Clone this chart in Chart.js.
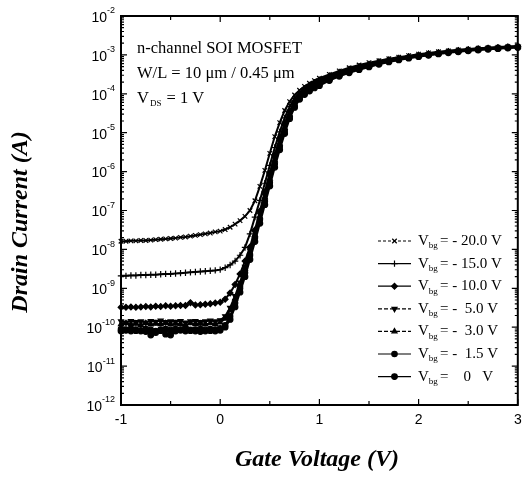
<!DOCTYPE html>
<html lang="en">
<head>
<meta charset="UTF-8">
<title>Drain Current vs Gate Voltage</title>
<script src="https://cdn.jsdelivr.net/npm/chart.js"></script>
<style>
    body { margin: 0; background: #fff; }
    #wrap { width: 523px; height: 485px; }
</style>
</head>
<body>
<div id="wrap"><canvas id="idvg" width="523" height="485"></canvas></div>
<script>
// gate voltage (V)
const vg = [-1, -0.95, -0.9, -0.85, -0.8, -0.75, -0.7, -0.65, -0.6, -0.55, -0.5, -0.45, -0.4, -0.35, -0.3, -0.25, -0.2, -0.15, -0.1, -0.05, 0,
    0.05, 0.1, 0.15, 0.2, 0.25, 0.3, 0.35, 0.4, 0.45, 0.5, 0.55, 0.6, 0.65, 0.7, 0.75, 0.8, 0.85, 0.9, 0.95, 1.0,
    1.1, 1.2, 1.3, 1.4, 1.5, 1.6, 1.7, 1.8, 1.9, 2.0, 2.1, 2.2, 2.3, 2.4, 2.5, 2.6, 2.7, 2.8, 2.9, 3.0];

// log10 of drain current (A), one list per back-gate bias
const logIdM20 = [-7.79, -7.79, -7.78, -7.78, -7.77, -7.77, -7.76, -7.75, -7.74, -7.73, -7.72, -7.71, -7.69, -7.68, -7.66, -7.64, -7.62, -7.60, -7.58, -7.55, -7.53,
    -7.49, -7.43, -7.35, -7.26, -7.15, -7.0, -6.75, -6.38, -5.97, -5.53, -5.1, -4.74, -4.43, -4.2, -4.03, -3.91, -3.81, -3.73, -3.66, -3.6,
    -3.5, -3.41, -3.33, -3.26, -3.2, -3.15, -3.1, -3.06, -3.02, -2.98, -2.95, -2.92, -2.895, -2.87, -2.85, -2.83, -2.815, -2.8, -2.785, -2.775];
const logIdM15 = [-8.68, -8.68, -8.67, -8.67, -8.66, -8.66, -8.65, -8.65, -8.64, -8.63, -8.63, -8.62, -8.61, -8.60, -8.59, -8.58, -8.57, -8.56, -8.55, -8.54, -8.52,
    -8.47, -8.4, -8.3, -8.15, -7.95, -7.6, -7.17, -6.74, -6.3, -5.84, -5.38, -4.98, -4.62, -4.33, -4.12, -3.97, -3.86, -3.77, -3.7, -3.64,
    -3.53, -3.44, -3.36, -3.29, -3.23, -3.17, -3.12, -3.08, -3.04, -3.0, -2.965, -2.935, -2.905, -2.88, -2.86, -2.84, -2.825, -2.81, -2.795, -2.78];
const logIdM10 = [-9.49, -9.49, -9.48, -9.49, -9.48, -9.47, -9.48, -9.46, -9.47, -9.45, -9.46, -9.45, -9.44, -9.44, -9.37, -9.43, -9.42, -9.41, -9.40, -9.38, -9.36,
    -9.28, -9.12, -8.9, -8.63, -8.3, -7.94, -7.5, -7.02, -6.52, -6.04, -5.57, -5.14, -4.75, -4.44, -4.2, -4.03, -3.91, -3.81, -3.73, -3.67,
    -3.56, -3.46, -3.38, -3.31, -3.25, -3.19, -3.14, -3.09, -3.05, -3.01, -2.975, -2.945, -2.915, -2.89, -2.87, -2.85, -2.83, -2.815, -2.8, -2.785];
const logIdM5 = [-9.85, -9.88, -9.84, -9.87, -9.85, -9.88, -9.84, -9.86, -9.83, -9.87, -9.85, -9.86, -9.84, -9.88, -9.85, -9.84, -9.87, -9.85, -9.83, -9.85, -9.82,
    -9.72, -9.5, -9.2, -8.85, -8.45, -8.02, -7.57, -7.1, -6.61, -6.13, -5.66, -5.23, -4.83, -4.5, -4.25, -4.07, -3.94, -3.84, -3.76, -3.7,
    -3.59, -3.49, -3.4, -3.33, -3.27, -3.21, -3.15, -3.1, -3.06, -3.02, -2.985, -2.95, -2.92, -2.895, -2.875, -2.855, -2.835, -2.82, -2.805, -2.79];
const logIdM3 = [-9.92, -9.9, -9.93, -9.91, -9.94, -9.9, -9.93, -9.91, -9.92, -9.9, -9.93, -9.91, -9.92, -9.94, -9.9, -9.92, -9.91, -9.93, -9.9, -9.92, -9.88,
    -9.78, -9.56, -9.26, -8.9, -8.5, -8.07, -7.62, -7.15, -6.66, -6.18, -5.71, -5.28, -4.88, -4.54, -4.28, -4.09, -3.96, -3.86, -3.78, -3.72,
    -3.61, -3.51, -3.42, -3.34, -3.28, -3.22, -3.16, -3.11, -3.065, -3.025, -2.99, -2.955, -2.925, -2.9, -2.88, -2.86, -2.84, -2.825, -2.81, -2.795];
const logIdM1p5 = [-10.05, -10.07, -10.04, -10.06, -10.08, -10.05, -10.07, -10.14, -10.06, -10.05, -10.07, -10.05, -10.06, -10.04, -10.07, -10.06, -10.05, -10.07, -10.05, -10.06, -10.03,
    -9.95, -9.72, -9.38, -9.0, -8.6, -8.16, -7.7, -7.24, -6.76, -6.28, -5.8, -5.36, -4.95, -4.59, -4.31, -4.11, -3.99, -3.9, -3.82, -3.76,
    -3.64, -3.53, -3.44, -3.36, -3.29, -3.23, -3.17, -3.12, -3.075, -3.035, -3.0, -2.965, -2.935, -2.91, -2.885, -2.865, -2.845, -2.83, -2.815, -2.8];
const logId0 = [-10.1, -10.08, -10.1, -10.09, -10.1, -10.11, -10.2, -10.1, -10.09, -10.18, -10.2, -10.1, -10.08, -10.1, -10.09, -10.1, -10.11, -10.1, -10.09, -10.1, -10.08,
    -10.0, -9.8, -9.48, -9.1, -8.7, -8.26, -7.8, -7.33, -6.85, -6.37, -5.89, -5.44, -5.02, -4.64, -4.35, -4.14, -4.02, -3.93, -3.85, -3.79,
    -3.66, -3.55, -3.46, -3.38, -3.31, -3.24, -3.18, -3.13, -3.085, -3.045, -3.01, -2.975, -2.945, -2.92, -2.895, -2.875, -2.855, -2.84, -2.825, -2.81];

const biasText = ['= - 20.0 V', '= - 15.0 V', '= - 10.0 V', '= -  5.0 V', '= -  3.0 V', '= -  1.5 V', '=    0   V'];
const yExp = [-12, -11, -10, -9, -8, -7, -6, -5, -4, -3, -2];
const xTicks = [-1, 0, 1, 2, 3];

const series = [logIdM20, logIdM15, logIdM10, logIdM5, logIdM3, logIdM1p5, logId0];
const marks = [
    { pointStyle: 'crossRot', radius: 3.2, rotation: 0, dash: [3, 2] },
    { pointStyle: 'cross', radius: 3.2, rotation: 0, dash: [] },
    { pointStyle: 'rectRot', radius: 2.9, rotation: 0, dash: [] },
    { pointStyle: 'triangle', radius: 2.9, rotation: 180, dash: [4, 2] },
    { pointStyle: 'triangle', radius: 2.9, rotation: 0, dash: [4, 2] },
    { pointStyle: 'circle', radius: 2.7, rotation: 0, dash: [] },
    { pointStyle: 'circle', radius: 2.8, rotation: 0, dash: [] }
];

const SERIF = '"Liberation Serif", "Times New Roman", serif';
const SANS = '"Liberation Sans", Arial, sans-serif';

// frame, inward ticks, labels, notes and legend
const decor = {
    id: 'decor',
    afterDraw(chart) {
        const { ctx, chartArea: a, scales: { x, y } } = chart;
        ctx.save();
        ctx.strokeStyle = '#000';
        ctx.fillStyle = '#000';

        ctx.lineWidth = 2;
        ctx.strokeRect(a.left, a.top, a.right - a.left, a.bottom - a.top);

        ctx.lineWidth = 1.2;
        ctx.beginPath();
        yExp.forEach(e => {
            const p = y.getPixelForValue(Math.pow(10, e));
            ctx.moveTo(a.left, p); ctx.lineTo(a.left + 6, p);
            ctx.moveTo(a.right, p); ctx.lineTo(a.right - 6, p);
            if (e < -2) {
                for (let k = 2; k <= 9; k++) {
                    const q = y.getPixelForValue(k * Math.pow(10, e));
                    ctx.moveTo(a.left, q); ctx.lineTo(a.left + 3, q);
                    ctx.moveTo(a.right, q); ctx.lineTo(a.right - 3, q);
                }
            }
        });
        xTicks.forEach(v => {
            const p = x.getPixelForValue(v);
            ctx.moveTo(p, a.bottom); ctx.lineTo(p, a.bottom - 6);
            ctx.moveTo(p, a.top); ctx.lineTo(p, a.top + 6);
            if (v < 3) {
                const h = x.getPixelForValue(v + 0.5);
                ctx.moveTo(h, a.bottom); ctx.lineTo(h, a.bottom - 4);
                ctx.moveTo(h, a.top); ctx.lineTo(h, a.top + 4);
            }
        });
        ctx.stroke();

        // y labels 10^n
        ctx.textBaseline = 'middle';
        yExp.forEach(e => {
            const p = y.getPixelForValue(Math.pow(10, e));
            ctx.font = '9px ' + SANS;
            const sup = String(e);
            const sw = ctx.measureText(sup).width;
            const xs = a.left - 6 - sw;
            ctx.textAlign = 'left';
            ctx.fillText(sup, xs, p - 5);
            ctx.font = '14px ' + SANS;
            ctx.textAlign = 'right';
            ctx.fillText('10', xs, p + 2);
        });

        // x labels
        ctx.font = '14px ' + SANS;
        ctx.textAlign = 'center';
        xTicks.forEach(v => ctx.fillText(String(v), x.getPixelForValue(v), a.bottom + 15));

        // axis titles
        ctx.font = 'italic bold 24px ' + SERIF;
        ctx.fillText('Gate Voltage (V)', 317, 460);
        ctx.save();
        ctx.translate(21, 222);
        ctx.rotate(-Math.PI / 2);
        ctx.fillText('Drain Current (A)', 0, 0);
        ctx.restore();

        // notes
        ctx.textAlign = 'left';
        ctx.font = '16.5px ' + SERIF;
        ctx.fillText('n-channel SOI MOSFET', 137, 49);
        ctx.fillText('W/L = 10 \u03bcm / 0.45 \u03bcm', 137, 74);
        ctx.fillText('V', 137, 99);
        const w = ctx.measureText('V').width;
        ctx.font = '9px ' + SERIF;
        ctx.fillText('DS', 138 + w, 104);
        const w2 = ctx.measureText('DS').width;
        ctx.font = '16.5px ' + SERIF;
        ctx.fillText(' = 1 V', 139 + w + w2, 99);

        // legend
        marks.forEach((m, i) => {
            const ly = 241 + i * 22.6;
            ctx.lineWidth = 1.2;
            ctx.setLineDash(m.dash);
            ctx.beginPath();
            ctx.moveTo(378, ly); ctx.lineTo(411, ly);
            ctx.stroke();
            ctx.setLineDash([]);
            Chart.helpers.drawPoint(ctx, { pointStyle: m.pointStyle, radius: m.radius, rotation: m.rotation, borderWidth: 1 }, 394.5, ly);
            ctx.font = '15px ' + SERIF;
            ctx.fillText('V', 418, ly);
            const vw = ctx.measureText('V').width;
            ctx.font = '9px ' + SERIF;
            ctx.fillText('bg', 418 + vw, ly + 5);
            ctx.font = '15px ' + SERIF;
            ctx.fillText(biasText[i], 440, ly);
        });
        ctx.restore();
    }
};

const datasets = series.map((s, i) => ({
    data: vg.map((v, j) => ({ x: v, y: Math.pow(10, s[j]) })),
    borderColor: '#000',
    backgroundColor: '#000',
    borderWidth: 2,
    pointStyle: marks[i].pointStyle,
    pointRadius: marks[i].radius,
    pointRotation: marks[i].rotation,
    pointBorderWidth: 1.2,
    pointBackgroundColor: '#000',
    pointBorderColor: '#000',
    tension: 0,
    clip: false
}));

new Chart(document.getElementById('idvg'), {
    type: 'line',
    data: { datasets: datasets },
    options: {
        responsive: false,
        animation: false,
        events: [],
        layout: { padding: { left: 113, right: 3, top: 16, bottom: 72 } },
        plugins: { legend: { display: false }, tooltip: { enabled: false } },
        scales: {
            x: {
                type: 'linear', min: -1, max: 3,
                grid: { display: false }, ticks: { display: false }, border: { display: false }
            },
            y: {
                type: 'logarithmic', min: 1e-12, max: 1e-2,
                grid: { display: false }, ticks: { display: false }, border: { display: false }
            }
        }
    },
    plugins: [decor]
});
</script>
</body>
</html>
